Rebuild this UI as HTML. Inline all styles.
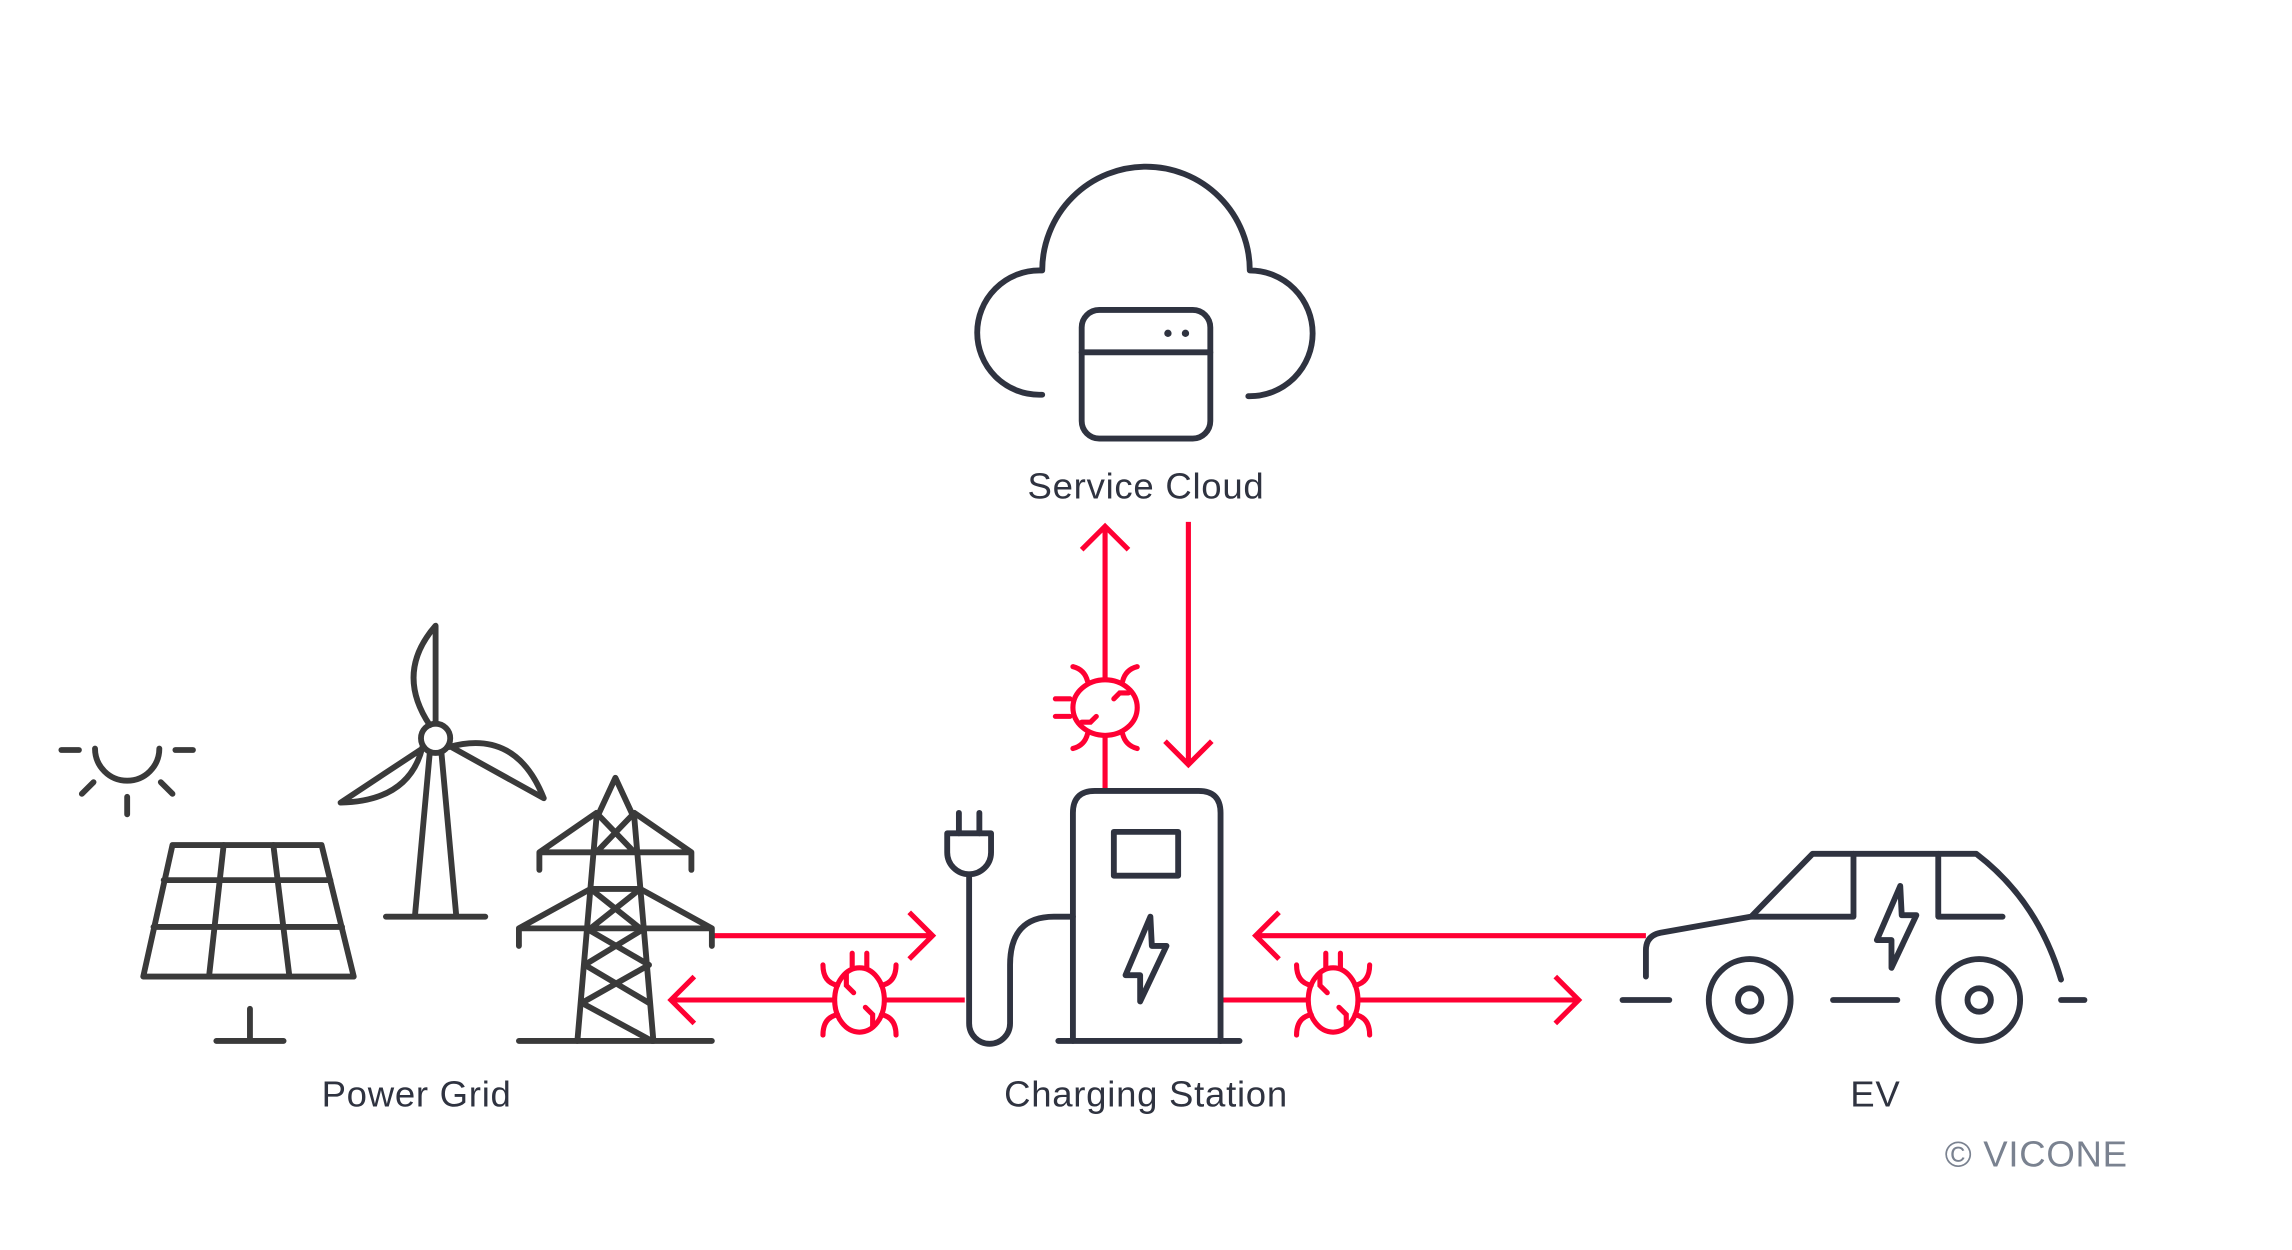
<!DOCTYPE html>
<html><head><meta charset="utf-8"><style>
html,body{margin:0;padding:0;background:#fff;}
svg{display:block;}
text{font-family:"Liberation Sans",sans-serif;letter-spacing:0.5px;}
</style></head><body>
<svg width="2292" height="1250" viewBox="0 0 1568 855" preserveAspectRatio="none" xmlns="http://www.w3.org/2000/svg">
<defs>
<g id="bug" fill="none" stroke="#ff0033" stroke-width="3.5" stroke-linecap="round">
  <ellipse cx="0" cy="0" rx="17" ry="22"/>
  <path d="M-5,-22 V-32 M5,-22 V-32"/>
  <path d="M-15,-10 q-10,-2 -10,-14 M15,-10 q10,-2 10,-14"/>
  <path d="M-15,10 q-10,2 -10,14 M15,10 q10,2 10,14"/>
  <path d="M-9,-18 V-10 l5,5 M9,18 V10 l-5,-5"/>
</g>
</defs>
<!-- cloud -->
<g fill="none" stroke="#2f3340" stroke-width="4" stroke-linecap="round" stroke-linejoin="round">
  <path d="M713,270 H711 a42,42 0 0 1 0,-85 H713 V185 A71,71 0 0 1 855,185 a43,43 0 0 1 0,86 h-1"/>
  <rect x="740" y="212" width="88" height="88" rx="12"/>
  <line x1="740" y1="241" x2="828" y2="241"/>
</g>
<circle cx="799" cy="228" r="2.5" fill="#2f3340"/><circle cx="811" cy="228" r="2.5" fill="#2f3340"/>
<text x="784" y="341" font-size="25" text-anchor="middle" fill="#2f3340">Service Cloud</text>

<!-- red connectors -->
<g fill="none" stroke="#ff0033" stroke-width="3.5" stroke-linecap="butt">
  <path d="M756,541 V360 M740,376 L756,360 L772,376"/>
  <path d="M813,357 V523 M797,507 L813,523 L829,507"/>
  <path d="M487,640 H638 M622,624 L638,640 L622,656"/>
  <path d="M660,684 H459 M475,668 L459,684 L475,700"/>
  <path d="M1126,640 H859 M875,624 L859,640 L875,656"/>
  <path d="M836,684 H1080 M1064,668 L1080,684 L1064,700"/>
</g>
<g fill="#fff"><ellipse cx="756" cy="484" rx="22" ry="19"/><ellipse cx="588" cy="684" rx="16" ry="21"/><ellipse cx="912" cy="684" rx="16" ry="21"/></g>
<g fill="none" stroke="#ff0033" stroke-width="3.5" stroke-linecap="round">
  <ellipse cx="756" cy="484" rx="22" ry="19"/>
  <path d="M744,466 q-2,-8 -10,-10 M768,466 q2,-8 10,-10 M744,502 q-2,8 -10,10 M768,502 q2,8 10,10"/>
  <path d="M722,478 h10 M722,490 h10 M762,478 l4,-4 h6 M750,490 l-4,4 h-6"/>
</g>
<use href="#bug" x="588" y="684"/>
<use href="#bug" x="912" y="684"/>

<!-- charging station -->
<g fill="none" stroke="#2f3340" stroke-width="4" stroke-linecap="round" stroke-linejoin="round">
  <path d="M734,712 V556 q0,-15 15,-15 H820 q15,0 15,15 V712"/>
  <line x1="724" y1="712" x2="848" y2="712"/>
  <rect x="762" y="569" width="44" height="30"/>
  <path d="M787,627 L770,667 H780 V685 L798,647 H788 Z"/>
  <path d="M648,570 H678 V583 a15,15 0 0 1 -30,0 Z"/>
  <path d="M656,556 V570 M670,556 V570"/>
  <path d="M663,598 V700 a14,14 0 0 0 28,0 V660 q0,-33 30,-33 H734"/>
</g>
<text x="784" y="757" font-size="25" text-anchor="middle" fill="#2f3340">Charging Station</text>

<!-- EV -->
<g fill="none" stroke="#2f3340" stroke-width="4" stroke-linecap="round" stroke-linejoin="round">
  <path d="M1126,668 V650 q0,-10 10,-12 L1198,627 L1240,584 H1352 q42,32 58,86"/>
  <path d="M1198,627 H1268 V584 M1326,584 V627 H1370"/>
  <path d="M1110,684 H1142 M1254,684 H1298 M1410,684 H1426"/>
  <circle cx="1197" cy="684" r="28"/><circle cx="1197" cy="684" r="8"/>
  <circle cx="1354" cy="684" r="28"/><circle cx="1354" cy="684" r="8"/>
  <path d="M1300,606 L1284,643 H1294 V662 L1311,626 H1301 Z"/>
</g>
<text x="1283" y="757" font-size="25" text-anchor="middle" fill="#2f3340">EV</text>
<text x="1393" y="798" font-size="25" text-anchor="middle" fill="#7a8290">© VICONE</text>

<!-- power grid -->
<g fill="none" stroke="#3a3a3a" stroke-width="4" stroke-linecap="round" stroke-linejoin="round">
  <path d="M65,512 a22,22 0 0 0 44,0"/>
  <path d="M42,513 H54 M120,513 H132 M87,545 V557 M56,543 L64,535 M118,543 L110,535"/>
  <path d="M118,578 H220 L242,668 H98 Z"/>
  <path d="M112,602 H226 M105,634 H234 M153,578 L143,668 M187,578 L198,668"/>
  <path d="M171,690 V712 M148,712 H194"/>
  <circle cx="298" cy="505" r="10"/>
  <path d="M294,515 L284,625 M302,515 L312,625 M264,627 H332"/>
  <path d="M294,496 Q270,460 298,428 V495"/>
  <path d="M289,511 Q280,548 233,549 L289,512"/>
  <path d="M307,511 Q353,498 372,546 L307,510"/>
  <path d="M408,560 L421,532 L434,560 L447,712 M408,560 L395,712"/>
  <path d="M369,595 V583 L408,556 M473,595 V583 L434,556 M369,583 H473 M408,583 L434,556 M434,583 L408,556"/>
  <path d="M355,647 V635 L404,608 M487,647 V635 L438,608 M355,635 H487 M404,608 H438 M404,608 L438,635 M438,608 L404,635"/>
  <path d="M401,635 L444,660 L398,686 L446,712 M441,635 L400,660 L444,686"/>
  <path d="M355,712 H487"/>
</g>
<text x="285" y="757" font-size="25" text-anchor="middle" fill="#2f3340">Power Grid</text>
</svg>
</body></html>
